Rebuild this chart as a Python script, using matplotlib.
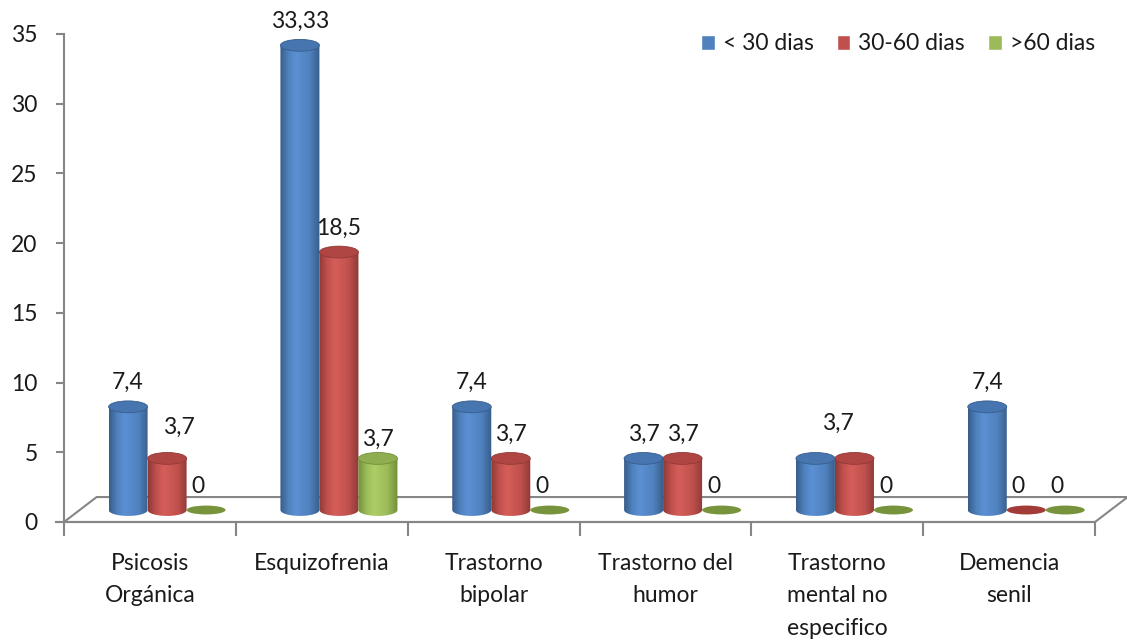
import numpy as np
import matplotlib
matplotlib.use("Agg")
import matplotlib.pyplot as plt
from matplotlib.patches import Ellipse, Patch, Polygon, PathPatch
from matplotlib.path import Path
from matplotlib.colors import LinearSegmentedColormap

plt.rcParams['font.family'] = ['Lato', 'DejaVu Sans']

categories = ['Psicosis\nOrgánica', 'Esquizofrenia', 'Trastorno\nbipolar',
              'Trastorno del\nhumor', 'Trastorno\nmental no\nespecifico', 'Demencia\nsenil']
series_names = ['< 30 dias', '30-60 dias', '>60 dias']
menos_30 = [7.4, 33.33, 7.4, 3.7, 3.7, 7.4]
entre_30_60 = [3.7, 18.5, 3.7, 3.7, 3.7, 0]
mas_60 = [0, 3.7, 0, 0, 0, 0]
label_menos_30 = ['7,4', '33,33', '7,4', '3,7', '', '7,4']
label_30_60 = ['3,7', '18,5', '3,7', '3,7', '3,7', '0']
label_mas_60 = ['0', '3,7', '0', '0', '0', '0']

values = [menos_30, entre_30_60, mas_60]
labels = [label_menos_30, label_30_60, label_mas_60]

# (dark, base, light, top, flat disc)
palette = [
    ('#385d8a', '#4f81bd', '#5b90d4', '#4675b0', '#3f6aa0'),
    ('#8f3a37', '#c0504d', '#d65e5a', '#b04643', '#a33b38'),
    ('#71903a', '#9bbb59', '#acce66', '#8eae4f', '#77933c'),
]

fs = 16.5
txtcol = '#1a1a1a'

fig = plt.figure(figsize=(11.27, 6.41), dpi=100)
ax = fig.add_axes([64 / 1127, 119 / 641, 1031 / 1127, 488 / 641])

grey = '#868686'
for s in ['top', 'right']:
    ax.spines[s].set_visible(False)
for s in ['left', 'bottom']:
    ax.spines[s].set_color(grey)
    ax.spines[s].set_linewidth(1.5)

# floor of the 3D plot
depth_x, depth_y = 0.19, 1.79
floor = Polygon([[0, 0], [6, 0], [6 + depth_x, depth_y], [depth_x, depth_y]],
                closed=True, facecolor='white', edgecolor=grey, lw=1.5,
                clip_on=False, zorder=1)
ax.add_patch(floor)
ax.plot([-0.045, 0], [0, 0], color=grey, lw=1.5, clip_on=False, zorder=1)

ax.set_yticks(range(0, 36, 5))
ax.tick_params(axis='y', length=6, width=1.5, color=grey, pad=13, labelsize=fs, labelcolor=txtcol)
ax.set_xticks(range(7))
ax.set_xticklabels([])
ax.tick_params(axis='x', length=10, width=1.5, color=grey)
for i, c in enumerate(categories):
    ax.text(i + 0.5, -2.2, c, ha='center', va='top', fontsize=fs,
            color=txtcol, linespacing=1.68, clip_on=False)

base = 0.86
w = 0.227
eh = 0.85
shift = 0.1
offsets = [-w, 0, w]
nudge = {(1, 0): (12, 7), (1, 4): (-17, 11), (2, 1): (0, -5)}

t = np.linspace(np.pi, 2 * np.pi, 40)
for s in range(3):
    dark, mid, light, top, disc = palette[s]
    cmap = LinearSegmentedColormap.from_list('c', [(0, dark), (0.2, mid), (0.4, light), (0.75, mid), (1, dark)])
    grad = np.linspace(0, 1, 64).reshape(1, -1)
    for i, v in enumerate(values[s]):
        x = i + 0.5 + shift + offsets[s]
        z = 3 + s
        if v > 0:
            xs = np.concatenate([[x - w / 2], x + w / 2 * np.cos(t), [x + w / 2]])
            ys = np.concatenate([[base + v], base + eh / 2 * np.sin(t), [base + v]])
            path = Path(np.column_stack([xs, ys]))
            pp = PathPatch(path, facecolor='none', edgecolor='none', zorder=z)
            ax.add_patch(pp)
            im = ax.imshow(grad, cmap=cmap, aspect='auto', zorder=z,
                           extent=(x - w / 2, x + w / 2, base - eh / 2, base + v),
                           interpolation='bilinear')
            im.set_clip_path(pp)
            ax.add_patch(Ellipse((x, base + v), w, eh, facecolor=top,
                                 edgecolor=dark, lw=0.6, zorder=z))
            ytop = base + v
        else:
            ax.add_patch(Ellipse((x, base), w, eh * 0.75, facecolor=disc,
                                 edgecolor='none', zorder=z))
            ytop = base
        txt = labels[s][i]
        if txt:
            dx, dy = nudge.get((s, i), (-8, 0) if v == 0 else (0, 0))
            ax.annotate(txt, (x, ytop), xytext=(dx, 24 + dy), textcoords='offset pixels',
                        ha='center', va='center', fontsize=fs, color=txtcol, zorder=10)

ax.set_xlim(0, 6)
ax.set_ylim(0, 35)

handles = [Patch(facecolor=palette[k][1], edgecolor='white', label=series_names[k]) for k in range(3)]
fig.legend(handles=handles, loc='center', bbox_to_anchor=(898 / 1127, 1 - 44 / 641),
           ncol=3, frameon=False, fontsize=fs, handlelength=0.6, handleheight=0.6,
           handletextpad=0.35, columnspacing=1.0, labelcolor=txtcol)

fig.savefig('out.png', dpi=100)
